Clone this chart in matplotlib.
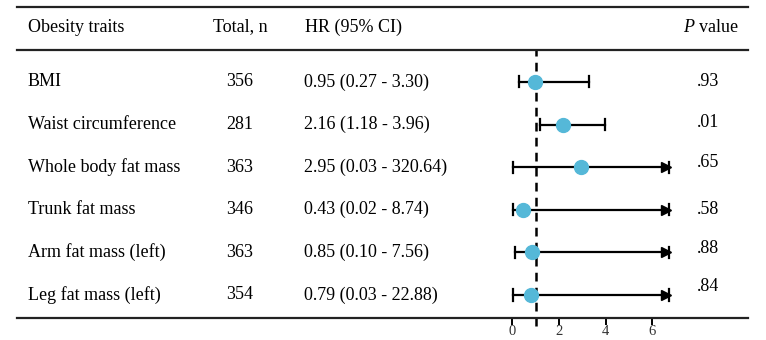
import matplotlib.pyplot as plt
from matplotlib.lines import Line2D

plt.rcParams['font.family'] = ['Liberation Serif', 'DejaVu Serif']
plt.rcParams['mathtext.fontset'] = 'custom'
plt.rcParams['mathtext.rm'] = 'Liberation Serif'
plt.rcParams['mathtext.it'] = 'Liberation Serif:italic'

# table data
traits = ["BMI", "Waist circumference", "Whole body fat mass", "Trunk fat mass",
          "Arm fat mass (left)", "Leg fat mass (left)"]
totals = [356, 281, 363, 346, 363, 354]
hr = [0.95, 2.16, 2.95, 0.43, 0.85, 0.79]
ci_low = [0.27, 1.18, 0.03, 0.02, 0.10, 0.03]
ci_high = [3.30, 3.96, 320.64, 8.74, 7.56, 22.88]
p_values = [".93", ".01", ".65", ".58", ".88", ".84"]
x_ticks = [0, 2, 4, 6]

clip_max = 6.7
dot_color = "#55b8d8"
fs = 13

fig = plt.figure(figsize=(7.66, 3.40), dpi=100)
ax = fig.add_axes([17 / 766, 1 - 318 / 340, 731 / 766, 268 / 340])

ax.set_xlim(-21.25, 10.1)
ax.set_ylim(5.54, -0.75)

for i in range(len(traits)):
    lo = ci_low[i]
    hi = min(ci_high[i], clip_max)
    ax.plot([lo, hi], [i, i], color="black", lw=1.6, zorder=2)
    ax.plot([lo, lo], [i - 0.13, i + 0.13], color="black", lw=1.6, zorder=2)
    ax.plot([hi, hi], [i - 0.13, i + 0.13], color="black", lw=1.6, zorder=2)
    if ci_high[i] > clip_max:
        ax.plot(hi - 0.12, i, marker=">", color="black", markersize=7, zorder=2)
    ax.plot(hr[i], i, "o", color=dot_color, markersize=10, zorder=3)

ax.axvline(1, ymin=-0.03, ymax=1, color="black", lw=1.8, ls=(0, (3.5, 2.5)),
           zorder=1, clip_on=False)

# table text
tr = ax.get_yaxis_transform()
p_shift = [0, -0.05, -0.1, 0, -0.1, -0.2]
for i in range(len(traits)):
    ax.text(0.015, i, traits[i], transform=tr, ha="left", va="center", fontsize=fs)
    ax.text(0.305, i, str(totals[i]), transform=tr, ha="center", va="center", fontsize=fs)
    ax.text(0.393, i, f"{hr[i]:.2f} ({ci_low[i]:.2f} - {ci_high[i]:.2f})",
            transform=tr, ha="left", va="center", fontsize=fs)
    ax.text(0.930, i + p_shift[i], p_values[i], transform=tr, ha="left", va="center",
            fontsize=fs)

# header
hy = 1 - 27 / 340
fig.text(28 / 766, hy, "Obesity traits", ha="left", va="center", fontsize=fs)
fig.text(240 / 766, hy, "Total, n", ha="center", va="center", fontsize=fs)
fig.text(305 / 766, hy, "HR (95% CI)", ha="left", va="center", fontsize=fs)
fig.text(739 / 766, hy, "$P$ value", ha="right", va="center", fontsize=fs)

fig.add_artist(Line2D([17 / 766, 748 / 766], [1 - 7 / 340, 1 - 7 / 340],
                      color="#222222", lw=1.6))

for s in ["left", "right"]:
    ax.spines[s].set_visible(False)
ax.spines["top"].set_linewidth(1.6)
ax.spines["bottom"].set_linewidth(1.6)
ax.spines["top"].set_color("#222222")
ax.spines["bottom"].set_color("#222222")

ax.set_yticks([])
ax.set_xticks(x_ticks)
ax.tick_params(axis="x", direction="out", length=5, width=1.4, pad=0,
               labelsize=10.5, labelcolor="#333333")

fig.savefig("out.png", dpi=100)
